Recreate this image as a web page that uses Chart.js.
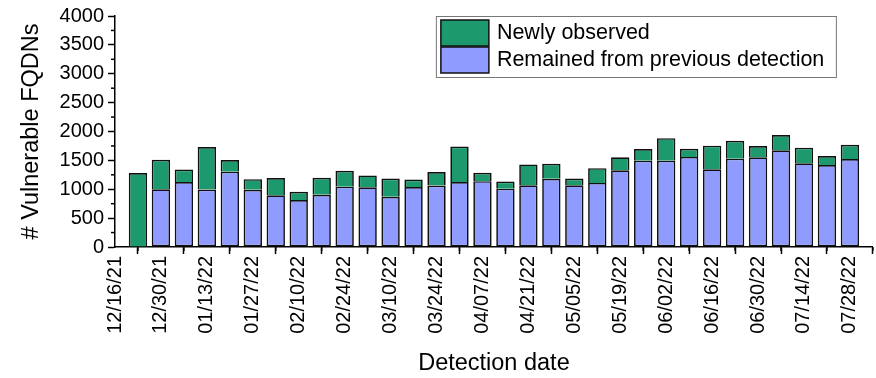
<!DOCTYPE html>
<html>
<head>
<meta charset="utf-8">
<script src="https://cdn.jsdelivr.net/npm/chart.js@4.4.1/dist/chart.umd.min.js"></script>
<style>
  html, body { margin: 0; padding: 0; background: #fff; }
  #wrap { width: 876px; height: 378px; position: relative; }
</style>
</head>
<body>
<div id="wrap"><canvas id="c" width="876" height="378"></canvas></div>
<script>
// ---- data ----
const axisStartDate = '12/16/21';
const detectionDates = ['12/23/21','12/30/21','01/06/22','01/13/22','01/20/22','01/27/22','02/03/22','02/10/22','02/17/22','02/24/22','03/03/22','03/10/22','03/17/22','03/24/22','03/31/22','04/07/22','04/14/22','04/21/22','04/28/22','05/05/22','05/12/22','05/19/22','05/26/22','06/02/22','06/09/22','06/16/22','06/23/22','06/30/22','07/07/22','07/14/22','07/21/22','07/28/22'];
const remainedFromPrevious = [null,1000,1125,995,1305,990,895,815,905,1045,1035,870,1040,1065,1125,1140,1010,1070,1180,1070,1110,1330,1495,1495,1560,1345,1530,1555,1675,1450,1420,1525];
const newlyObserved = [1280,510,215,735,200,185,300,140,295,275,205,315,130,235,615,145,125,360,260,115,255,225,200,390,140,410,310,195,265,270,155,245];
const tickLabels = ['12/16/21','12/30/21','01/13/22','01/27/22','02/10/22','02/24/22','03/10/22','03/24/22','04/07/22','04/21/22','05/05/22','05/19/22','06/02/22','06/16/22','06/30/22','07/14/22','07/28/22'];
const yTicks = [0,500,1000,1500,2000,2500,3000,3500,4000];

// ---- helpers ----
function parseDate(s) { const [m,d,y] = s.split('/').map(Number); return Date.UTC(2000+y, m-1, d); }
const t0 = parseDate(axisStartDate);
const weekIndex = s => Math.round((parseDate(s) - t0) / (7*864e5));
const tickWeeks = tickLabels.map(weekIndex);

const GREEN = '#1c9a6d';
const BLUE = '#8f9bff';
const FONT = "'Liberation Sans', Arial, sans-serif";

const minorTicks = {
  id: 'minorTicks',
  afterDraw(chart) {
    const ctx = chart.ctx, xs = chart.scales.x, ys = chart.scales.y;
    ctx.save();
    ctx.strokeStyle = '#000'; ctx.lineWidth = 1.5;
    for (let w = Math.ceil(xs.min); w <= xs.max; w++) {
      if (tickWeeks.includes(w)) continue;
      const px = xs.getPixelForValue(w);
      ctx.beginPath(); ctx.moveTo(px, ys.bottom); ctx.lineTo(px, ys.bottom + 4); ctx.stroke();
    }
    for (let i = 0; i < yTicks.length - 1; i++) {
      const py = ys.getPixelForValue((yTicks[i] + yTicks[i+1]) / 2);
      ctx.beginPath(); ctx.moveTo(xs.left - 4, py); ctx.lineTo(xs.left, py); ctx.stroke();
    }
    ctx.restore();
  }
};

const boxLegend = {
  id: 'boxLegend',
  afterDraw(chart) {
    const ctx = chart.ctx, area = chart.chartArea;
    const items = [chart.data.datasets[1], chart.data.datasets[0]];
    const right = area.right - 37, top = area.top;
    const width = 400, height = 61;
    const left = right - width;
    ctx.save();
    ctx.fillStyle = '#fff';
    ctx.fillRect(left, top, width, height);
    ctx.strokeStyle = '#777'; ctx.lineWidth = 1;
    ctx.strokeRect(left + 0.5, top + 0.5, width, height);
    ctx.font = "21.5px " + FONT;
    ctx.textBaseline = 'middle';
    items.forEach((ds, i) => {
      const sy = top + 4 + i * 27;
      ctx.fillStyle = ds.backgroundColor;
      ctx.fillRect(left + 5, sy, 48, 26);
      ctx.strokeStyle = '#111'; ctx.lineWidth = 1.5;
      ctx.strokeRect(left + 5, sy, 48, 26);
      ctx.fillStyle = '#000';
      ctx.fillText(ds.label, left + 61, sy + 13);
    });
    ctx.restore();
  }
};

new Chart(document.getElementById('c'), {
  type: 'bar',
  data: {
    datasets: [
      {
        label: 'Remained from previous detection',
        data: detectionDates.map((d, i) => ({ x: weekIndex(d), y: remainedFromPrevious[i] })),
        backgroundColor: BLUE, borderColor: '#111', borderWidth: 1.7, borderSkipped: false
      },
      {
        label: 'Newly observed',
        data: detectionDates.map((d, i) => ({ x: weekIndex(d), y: newlyObserved[i] })),
        backgroundColor: GREEN, borderColor: '#111', borderWidth: 1.7, borderSkipped: 'start'
      }
    ]
  },
  options: {
    responsive: false,
    animation: false,
    events: [],
    categoryPercentage: 1,
    barPercentage: 0.8,
    layout: { padding: { left: 17, right: 3, top: 4, bottom: 0 } },
    plugins: { legend: { display: false }, tooltip: { enabled: false } },
    scales: {
      x: {
        type: 'linear', stacked: true, min: 0, max: 33, offset: false,
        afterBuildTicks: s => { s.ticks = tickWeeks.map(v => ({ value: v })); },
        afterFit: s => { s.height = 131; },
        ticks: {
          autoSkip: false, maxRotation: 90, minRotation: 90, padding: 2,
          color: '#000', font: { family: FONT, size: 20 },
          callback: v => tickLabels[tickWeeks.indexOf(v)]
        },
        grid: { display: true, drawOnChartArea: false, drawTicks: true, tickLength: 7, tickWidth: 1.5, tickColor: '#000' },
        border: { display: true, color: '#000', width: 1.5 },
        title: { display: true, text: 'Detection date', color: '#000', font: { family: FONT, size: 23.5 }, padding: 0 }
      },
      y: {
        stacked: true, min: 0, max: 4000,
        afterBuildTicks: s => { s.ticks = yTicks.map(v => ({ value: v })); },
        afterFit: s => { s.width = 98; },
        ticks: { padding: 4, color: '#000', font: { family: FONT, size: 20 }, callback: v => String(v) },
        grid: { display: true, drawOnChartArea: false, drawTicks: true, tickLength: 7, tickWidth: 1.5, tickColor: '#000' },
        border: { display: true, color: '#000', width: 1.5 },
        title: { display: true, text: '# Vulnerable FQDNs', color: '#000', font: { family: FONT, size: 23.5 }, padding: 0 }
      }
    }
  },
  plugins: [minorTicks, boxLegend]
});
</script>
</body>
</html>
